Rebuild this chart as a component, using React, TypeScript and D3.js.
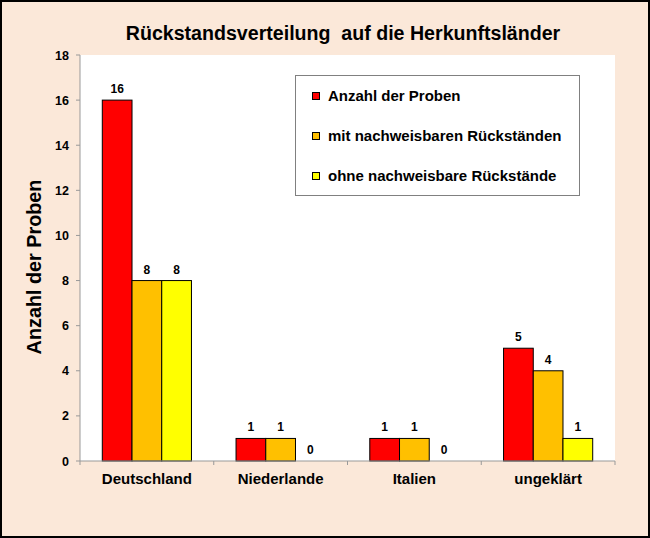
import React from "react";
import * as d3 from "d3";

const categories = ["Deutschland", "Niederlande", "Italien", "ungeklärt"];
const seriesNames = ["Anzahl der Proben", "mit nachweisbaren Rückständen", "ohne nachweisbare Rückstände"];
const anzahl = [16, 1, 1, 5];
const mitRueck = [8, 1, 1, 4];
const ohneRueck = [8, 0, 0, 1];
const colors = ["#FF0000", "#FFC000", "#FFFF00"];
const yTicks = [0, 2, 4, 6, 8, 10, 12, 14, 16, 18];

const W = 650, H = 538;
const left = 80, right = 615, top = 55, bottom = 461;
const FONT = "Arial, 'Liberation Sans', Helvetica, sans-serif";

export default function App() {
  const seriesValues = [anzahl, mitRueck, ohneRueck];
  const x = d3.scaleBand<string>().domain(categories).range([left, right]).paddingInner(0).paddingOuter(0);
  const xs = d3.scaleBand<number>().domain([0, 1, 2]).range([0, x.bandwidth()]).paddingInner(0).paddingOuter(0.75);
  const y = d3.scaleLinear().domain([0, 18]).range([bottom, top]);
  const boundaries = [left, ...categories.map((c) => (x(c) as number) + x.bandwidth())];

  return (
    <svg width={W} height={H} style={{ position: "fixed", left: 0, top: 0 }} fontFamily={FONT}>
      <rect x={1} y={1} width={W - 2} height={H - 2} fill="#FBE8D9" stroke="#000" strokeWidth={2} />
      <rect x={left} y={top} width={right - left} height={bottom - top} fill="#FFFFFF" />
      <text x={343} y={40} textAnchor="middle" fontSize={19.6} fontWeight="bold" fill="#000" style={{ whiteSpace: "pre" }}>
        {"Rückstandsverteilung  auf die Herkunftsländer"}
      </text>
      {/* y axis */}
      <line x1={left} x2={left} y1={top} y2={bottom} stroke="#999" />
      {yTicks.map((t) => (
        <g key={t}>
          <line x1={left - 4} x2={left} y1={y(t)} y2={y(t)} stroke="#999" />
          <text x={69} y={y(t) + 4.5} textAnchor="end" fontSize={12.5} fontWeight="bold" fill="#000">{t}</text>
        </g>
      ))}
      <text transform={`translate(41,${267}) rotate(-90)`} textAnchor="middle" fontSize={19.8} fontWeight="bold" fill="#000">
        Anzahl der Proben
      </text>
      {/* bars */}
      {categories.map((c, ci) => (
        <g key={c}>
          {seriesValues.map((vals, si) => {
            const bx = (x(c) as number) + (xs(si) as number);
            const v = vals[ci];
            return (
              <g key={si}>
                {v > 0 && (
                  <rect x={bx} y={y(v)} width={xs.bandwidth()} height={y(0) - y(v)} fill={colors[si]} stroke="#000" strokeWidth={1} />
                )}
                <text x={bx + xs.bandwidth() / 2} y={y(v) - 7} textAnchor="middle" fontSize={12} fontWeight="bold" fill="#000">{v}</text>
              </g>
            );
          })}
        </g>
      ))}
      {/* x axis */}
      <line x1={left} x2={right} y1={bottom} y2={bottom} stroke="#999" />
      {boundaries.map((b, i) => (
        <line key={i} x1={b} x2={b} y1={bottom} y2={bottom + 4} stroke="#999" />
      ))}
      {categories.map((c) => (
        <text key={c} x={(x(c) as number) + x.bandwidth() / 2} y={484} textAnchor="middle" fontSize={15} fontWeight="bold" fill="#000">{c}</text>
      ))}
      {/* legend */}
      <rect x={295.5} y={75.5} width={284} height={120} fill="#FFFFFF" stroke="#808080" strokeWidth={1} />
      {seriesNames.map((n, i) => (
        <g key={n}>
          <rect x={312.5} y={92.5 + i * 40} width={7} height={7} fill={colors[i]} stroke="#000" strokeWidth={1} />
          <text x={328} y={101 + i * 40} fontSize={15} fontWeight="bold" fill="#000">{n}</text>
        </g>
      ))}
    </svg>
  );
}
